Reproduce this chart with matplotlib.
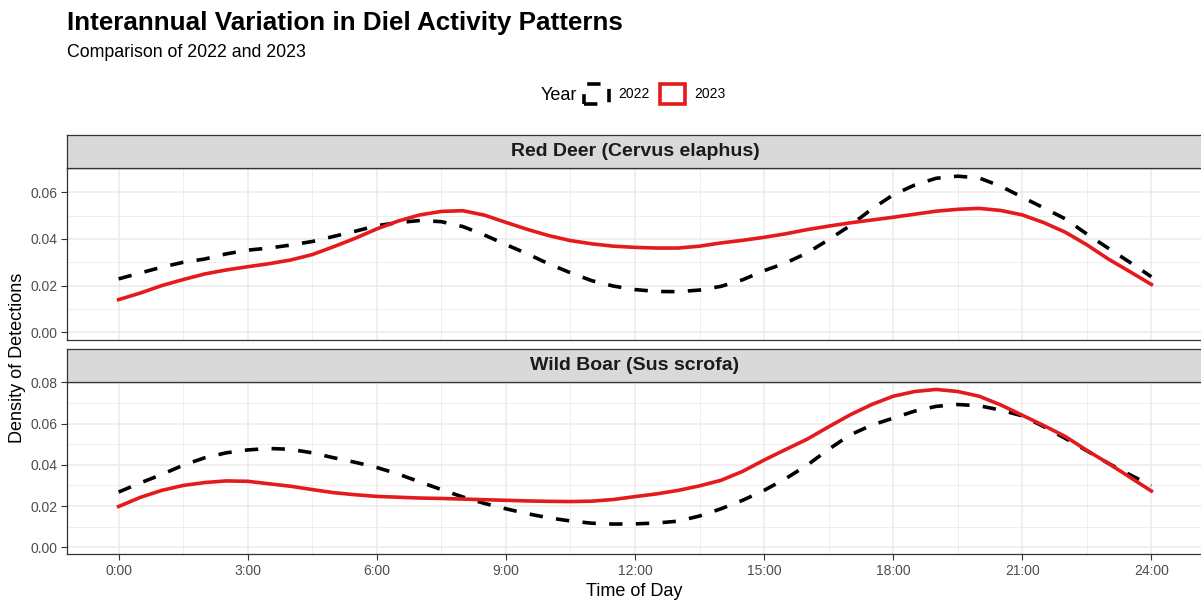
import numpy as np
import matplotlib.pyplot as plt
from matplotlib.patches import Patch

plt.rcParams['font.family'] = ['Liberation Sans', 'DejaVu Sans']

# density readings every half hour, 0:00 .. 24:00
hours = [i / 2 for i in range(49)]
deer_2022 = [0.0229, 0.0254, 0.0279, 0.0300, 0.0314, 0.0336, 0.0352, 0.0361, 0.0374,
             0.0389, 0.0411, 0.0433, 0.0457, 0.0470, 0.0479, 0.0474, 0.0453, 0.0417,
             0.0376, 0.0336, 0.0293, 0.0255, 0.0221, 0.0198, 0.0183, 0.0175, 0.0174,
             0.0181, 0.0197, 0.0225, 0.0264, 0.0297, 0.0340, 0.0397, 0.0457, 0.0528,
             0.0589, 0.0631, 0.0660, 0.0669, 0.0661, 0.0626, 0.0579, 0.0533, 0.0486,
             0.0421, 0.0360, 0.0300, 0.0238]
deer_2023 = [0.0140, 0.0168, 0.0200, 0.0226, 0.0250, 0.0267, 0.0281, 0.0294, 0.0310,
             0.0333, 0.0367, 0.0403, 0.0443, 0.0477, 0.0503, 0.0518, 0.0521, 0.0502,
             0.0471, 0.0441, 0.0414, 0.0393, 0.0379, 0.0369, 0.0364, 0.0361, 0.0361,
             0.0369, 0.0383, 0.0394, 0.0407, 0.0422, 0.0440, 0.0455, 0.0469, 0.0481,
             0.0493, 0.0506, 0.0519, 0.0527, 0.0531, 0.0522, 0.0503, 0.0470, 0.0429,
             0.0375, 0.0314, 0.0260, 0.0205]
boar_2022 = [0.0268, 0.0312, 0.0353, 0.0398, 0.0434, 0.0458, 0.0472, 0.0479, 0.0475,
             0.0458, 0.0434, 0.0412, 0.0387, 0.0355, 0.0317, 0.0280, 0.0244, 0.0213,
             0.0187, 0.0163, 0.0143, 0.0128, 0.0117, 0.0113, 0.0114, 0.0118, 0.0127,
             0.0152, 0.0187, 0.0228, 0.0276, 0.0333, 0.0398, 0.0475, 0.0545, 0.0592,
             0.0626, 0.0660, 0.0683, 0.0692, 0.0686, 0.0665, 0.0637, 0.0585, 0.0528,
             0.0468, 0.0407, 0.0352, 0.0299]
boar_2023 = [0.0198, 0.0242, 0.0276, 0.0300, 0.0314, 0.0322, 0.0320, 0.0308, 0.0296,
             0.0280, 0.0265, 0.0255, 0.0247, 0.0243, 0.0239, 0.0237, 0.0234, 0.0231,
             0.0228, 0.0225, 0.0223, 0.0222, 0.0224, 0.0232, 0.0246, 0.0259, 0.0276,
             0.0298, 0.0325, 0.0368, 0.0423, 0.0474, 0.0524, 0.0584, 0.0642, 0.0692,
             0.0732, 0.0755, 0.0765, 0.0755, 0.0732, 0.0690, 0.0640, 0.0590, 0.0537,
             0.0470, 0.0407, 0.0340, 0.0273]

species = ["Red Deer (Cervus elaphus)", "Wild Boar (Sus scrofa)"]
years = ["2022", "2023"]
x_ticks = [0, 3, 6, 9, 12, 15, 18, 21, 24]
x_labels = ["0:00", "3:00", "6:00", "9:00", "12:00", "15:00", "18:00", "21:00", "24:00"]

col_2022 = "black"
col_2023 = "#E41A1C"
dash = (0, (3.7, 3.7))
lw = 2.6

W, H = 1201, 600
fig = plt.figure(figsize=(W / 100, H / 100), dpi=100)


def box(l, t, r, b):
    return [l / W, 1 - b / H, (r - l) / W, (b - t) / H]


panels = [
    (deer_2022, deer_2023, species[0], (-0.0033, 0.0704), [0, 0.02, 0.04, 0.06],
     168, 340),
    (boar_2022, boar_2023, species[1], (-0.0032, 0.0801), [0, 0.02, 0.04, 0.06, 0.08],
     382, 554),
]

for i, (y22, y23, name, ylim, yt, top, bot) in enumerate(panels):
    ax = fig.add_axes(box(67, top, 1203, bot))
    ax.plot(hours, y22, color=col_2022, lw=lw, linestyle=dash, zorder=3)
    ax.plot(hours, y23, color=col_2023, lw=lw, zorder=4)
    ax.set_xlim(-1.2, 25.2)
    ax.set_ylim(*ylim)
    ax.set_xticks(x_ticks)
    ax.set_xticks(np.arange(1.5, 24, 3), minor=True)
    ax.set_yticks(yt)
    ax.set_yticklabels([f"{v:.2f}" for v in yt])
    ax.set_yticks(np.arange(0.01, ylim[1], 0.02), minor=True)
    ax.grid(which='major', color='#EBEBEB', lw=1.1, zorder=0)
    ax.grid(which='minor', color='#EBEBEB', lw=0.6, zorder=0)
    ax.set_axisbelow(True)
    for s in ax.spines.values():
        s.set_color('#333333')
        s.set_linewidth(0.9)
    ax.tick_params(which='major', length=4, width=0.8, color='#333333', pad=3,
                   labelsize=10, labelcolor='#4D4D4D')
    ax.tick_params(which='minor', length=0)
    if i == 0:
        ax.tick_params(axis='x', which='both', bottom=False, labelbottom=False)
    else:
        ax.set_xticklabels(x_labels)

    # facet strip
    st = fig.add_axes(box(67, top - 33, 1203, top))
    st.set_facecolor('#D9D9D9')
    st.set_xticks([])
    st.set_yticks([])
    for s in st.spines.values():
        s.set_color('#333333')
        s.set_linewidth(0.9)
    st.text(0.5, 0.5, name, transform=st.transAxes, ha='center', va='center',
            fontsize=14, fontweight='bold', color='#1A1A1A')

fig.text(67 / W, 1 - 30 / H, "Interannual Variation in Diel Activity Patterns",
         fontsize=18.7, fontweight='bold', va='baseline', ha='left')
fig.text(67 / W, 1 - 57 / H, "Comparison of 2022 and 2023",
         fontsize=12.8, va='baseline', ha='left')

fig.text(634 / W, 1 - 596 / H, "Time of Day", fontsize=13, ha='center', va='baseline')
fig.text(18 / W, 1 - 358 / H, "Density of Detections", fontsize=13, rotation=90,
         ha='center', va='center')

# legend with title on the left
fig.text(577 / W, 1 - 95 / H, "Year", fontsize=13, ha='right', va='center')
handles = [
    Patch(facecolor='none', edgecolor=col_2022, linestyle=dash, linewidth=lw),
    Patch(facecolor='none', edgecolor=col_2023, linewidth=lw),
]
fig.legend(handles, years, loc='center left', bbox_to_anchor=(584 / W, 1 - 94 / H),
           ncol=2, frameon=False, fontsize=10, handlelength=1.8, handleheight=1.8,
           handletextpad=0.7, columnspacing=0.7, borderpad=0, borderaxespad=0)

fig.savefig("out.png", dpi=100)
